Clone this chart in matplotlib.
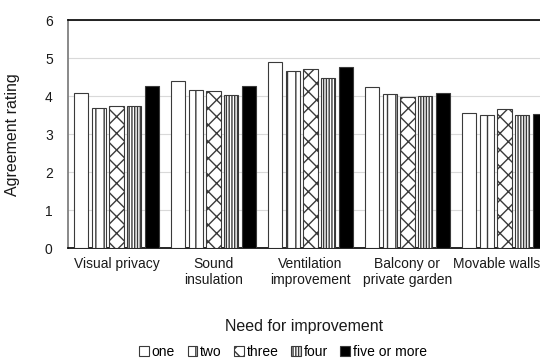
import matplotlib
matplotlib.use("Agg")
import matplotlib.pyplot as plt
import matplotlib.transforms as mtransforms
import numpy as np

plt.rcParams["font.family"] = ["Liberation Sans", "DejaVu Sans"]
plt.rcParams["hatch.linewidth"] = 1.0

categories = ["Visual privacy", "Sound\ninsulation", "Ventilation\nimprovement",
              "Balcony or\nprivate garden", "Movable walls"]
series = ["one", "two", "three", "four", "five or more"]

one = [4.07, 4.39, 4.89, 4.23, 3.55]
two = [3.69, 4.17, 4.65, 4.05, 3.51]
three = [3.75, 4.14, 4.72, 3.97, 3.67]
four = [3.74, 4.02, 4.48, 3.99, 3.51]
five_plus = [4.26, 4.27, 4.77, 4.08, 3.54]
values = [one, two, three, four, five_plus]

# look of each series (fill, hatch)
styles = [
    ("white", None),
    ("white", "||"),
    ("white", "xx"),
    ("white", "||||||"),
    ("black", None),
]

fig = plt.figure(figsize=(5.40, 3.59), dpi=100)
ax = fig.add_axes([68 / 540, 1 - 248.3 / 359, 485 / 540, 228.3 / 359])

x = np.arange(len(categories))
pitch = 0.183
bw = 0.145
offsets = (np.arange(len(series)) - 2) * pitch

for vals, off, (fc, hatch), lab in zip(values, offsets, styles, series):
    ax.bar(x + off, vals, width=bw, color=fc, hatch=hatch,
           edgecolor="#3a3a3a", linewidth=0.8, label=lab, zorder=3)

ax.set_xlim(-0.5, 4.5)
ax.set_ylim(0, 6)
ax.set_yticks(range(0, 7))
ax.set_xticks(x)
ax.set_xticklabels(categories, fontsize=10, color="#1a1a1a")
ax.tick_params(axis="x", length=0, pad=6)
ax.tick_params(axis="y", length=0, pad=11, labelsize=10, labelcolor="#1a1a1a")
ax.yaxis.grid(True, color="#d9d9d9", linewidth=0.8, zorder=0)
ax.set_axisbelow(True)

# last label is nudged left, as in the source chart
last = ax.get_xticklabels()[-1]
last.set_transform(last.get_transform() +
                   mtransforms.ScaledTranslation(-8 / 100, 0, fig.dpi_scale_trans))

ax.spines["left"].set_color("#808080")
ax.spines["left"].set_linewidth(1.3)
ax.spines["bottom"].set_color("black")
ax.spines["bottom"].set_linewidth(1.2)
ax.spines["top"].set_color("black")
ax.spines["top"].set_linewidth(1.2)
ax.spines["right"].set_visible(False)

ax.set_ylabel("Agreement rating", fontsize=11.5, color="#1a1a1a")
ax.yaxis.set_label_coords((20 - 68) / 485, 0.5)

fig.text(304 / 540, 1 - 326 / 359, "Need for improvement", fontsize=11.5,
         ha="center", va="center", color="#1a1a1a")

fig.legend(loc="center", bbox_to_anchor=(283 / 540, 1 - 352 / 359), ncol=5,
           frameon=False, fontsize=10, handlelength=0.7, handleheight=0.7,
           handletextpad=0.2, columnspacing=0.9, borderpad=0)

fig.savefig("out.png", dpi=100)
